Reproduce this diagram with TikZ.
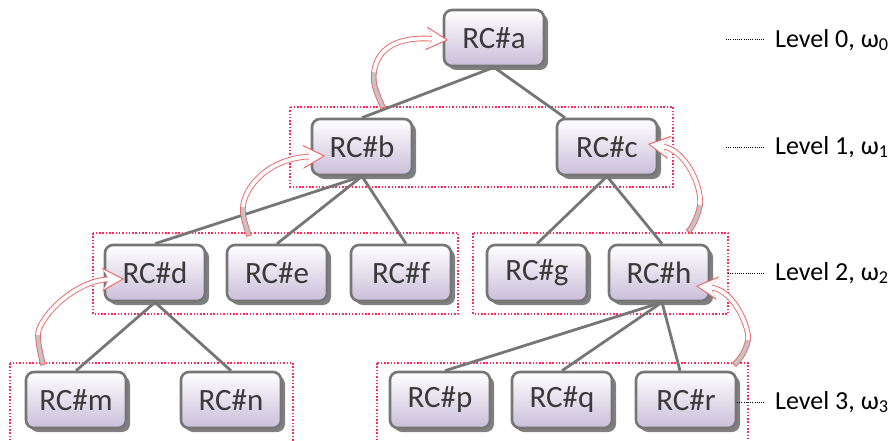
\documentclass[tikz,border=0pt]{standalone}
\usepackage{fontspec}
\setmainfont{Carlito}
\usetikzlibrary{arrows.meta,shadows}
\definecolor{boxline}{HTML}{767676}
\definecolor{boxbottom}{HTML}{C9BED9}
\definecolor{rctext}{HTML}{3A3A3A}
\definecolor{grouped}{HTML}{FF2A5A}
\definecolor{ribbon}{HTML}{EE6464}
\definecolor{ribbonback}{HTML}{C4C4C4}
\begin{document}
\begin{tikzpicture}[x=1pt,y=-1pt,
		rc/.style={draw=boxline, line width=2.6pt, rounded corners=8pt,
			minimum width=100pt, minimum height=56pt, inner sep=0pt,
			top color=white, bottom color=boxbottom, text=rctext,
			font=\fontsize{31}{36}\selectfont,
			drop shadow={shadow xshift=4pt, shadow yshift=-4pt, fill=black!50, opacity=1}},
		link/.style={draw=boxline, line width=2.8pt},
		group/.style={draw=grouped, line width=1.5pt, dash pattern=on 1.5pt off 1.8pt},
		lvl/.style={anchor=west, inner sep=0pt, font=\fontsize{26}{30}\selectfont},
		lvldots/.style={draw=black, line width=1pt, dash pattern=on 1pt off 1.2pt},
		ribbonout/.style={draw=ribbon, line width=5.6pt,
			-{Stealth[length=22pt,width=24pt,inset=7pt,line width=0pt]}},
		ribbonback/.style={draw=ribbonback, line width=3.8pt, shorten <=0.9pt},
		ribbonin/.style={draw=white, line width=3.8pt, shorten >=2.2pt,
			-{Stealth[length=18.5pt,width=20pt,inset=6pt,line width=0pt]}}]
		\useasboundingbox (0,0) rectangle (891,441);
		\clip (0,0) rectangle (891,441);
		
		% groups of one level
		\draw[group] (290,107) rectangle (673,187);
		\draw[group] (93,233) rectangle (458,314);
		\draw[group] (473,233) rectangle (728,314);
		\draw[group] (10,363) rectangle (293,450);
		\draw[group] (377,363) rectangle (748,450);
		
		% tree
		\node[rc] (a) at (494,38)  {RC\#a};
		\node[rc] (b) at (362,147) {RC\#b};
		\node[rc] (c) at (607,147) {RC\#c};
		\node[rc] (d) at (155,273) {RC\#d};
		\node[rc] (e) at (277,273) {RC\#e};
		\node[rc] (f) at (401,273) {RC\#f};
		\node[rc] (g) at (537,273) {RC\#g};
		\node[rc] (h) at (659,273) {RC\#h};
		\node[rc] (m) at (76,400)  {RC\#m};
		\node[rc] (n) at (231,400) {RC\#n};
		\node[rc] (p) at (440,400) {RC\#p};
		\node[rc] (q) at (562,400) {RC\#q};
		\node[rc] (r) at (686,400) {RC\#r};
		
		\draw[link] (a.south) -- (b.north);
		\draw[link] (a.south) -- ([xshift=-42pt]c.north);
		\draw[link] (b.south) -- (d.north);
		\draw[link] (b.south) -- (e.north);
		\draw[link] (b.south) -- ([xshift=5pt]f.north);
		\draw[link] (c.south) -- (g.north);
		\draw[link] (c.south) -- ([xshift=3pt]h.north);
		\draw[link] (d.south) -- (m.north);
		\draw[link] (d.south) -- (n.north);
		\draw[link] ([xshift=3pt]h.south) -- ([xshift=5pt]p.north);
		\draw[link] ([xshift=3pt]h.south) -- (q.north);
		\draw[link] ([xshift=3pt]h.south) -- ([xshift=-6pt]r.north);
		
		% curved arrows up to the parent
		\draw[ribbonout] (383,108) .. controls (378,95) and (372,85) .. (374,72) .. controls (377,50) and (395,36) .. (448,40);
		\draw[ribbonback] (383,108) .. controls (378,95) and (372,85) .. (374,72);
		\draw[ribbonin] (374,72) .. controls (377,50) and (395,36) .. (448,40);
		
		\draw[ribbonout] (249,236) .. controls (246,226) and (242,216) .. (243,207) .. controls (244,188) and (268,158) .. (325,156);
		\draw[ribbonback] (249,236) .. controls (246,226) and (242,216) .. (243,207);
		\draw[ribbonin] (243,207) .. controls (244,188) and (268,158) .. (325,156);
		
		\draw[ribbonout] (43,365) .. controls (41,355) and (38,345) .. (38,335) .. controls (38,318) and (75,280) .. (124,279);
		\draw[ribbonback] (43,365) .. controls (41,355) and (38,345) .. (38,335);
		\draw[ribbonin] (38,335) .. controls (38,318) and (75,280) .. (124,279);
		
		\draw[ribbonout] (688,232) .. controls (694,225) and (698,215) .. (700,205) .. controls (702,185) and (685,150) .. (648,144);
		\draw[ribbonback] (688,232) .. controls (694,225) and (698,215) .. (700,205);
		\draw[ribbonin] (700,205) .. controls (702,185) and (685,150) .. (648,144);
		
		\draw[ribbonout] (734,365) .. controls (741,358) and (746,350) .. (748,340) .. controls (750,330) and (735,290) .. (696,286);
		\draw[ribbonback] (734,365) .. controls (741,358) and (746,350) .. (748,340);
		\draw[ribbonin] (748,340) .. controls (750,330) and (735,290) .. (696,286);
		
		% levels
		\node[lvl] (lvl0) at (775,40)  {Level 0, ω\textsubscript{0}};
		\node[lvl] (lvl1) at (775,147) {Level 1, ω\textsubscript{1}};
		\node[lvl] (lvl2) at (775,273) {Level 2, ω\textsubscript{2}};
		\node[lvl] (lvl3) at (775,402) {Level 3, ω\textsubscript{3}};
		\coordinate (l0) at (726,40);
		\coordinate (l1) at (726,147);
		\coordinate (l2) at (728,273);
		\coordinate (l3) at (737,402);
		\draw[lvldots, shorten >=10pt] (l0) -- (l0 -| lvl0.west);
		\draw[lvldots, shorten >=10pt] (l1) -- (l1 -| lvl1.west);
		\draw[lvldots, shorten >=10pt] (l2) -- (l2 -| lvl2.west);
		\draw[lvldots, shorten >=10pt] (l3) -- (l3 -| lvl3.west);
	\end{tikzpicture}
\end{document}
